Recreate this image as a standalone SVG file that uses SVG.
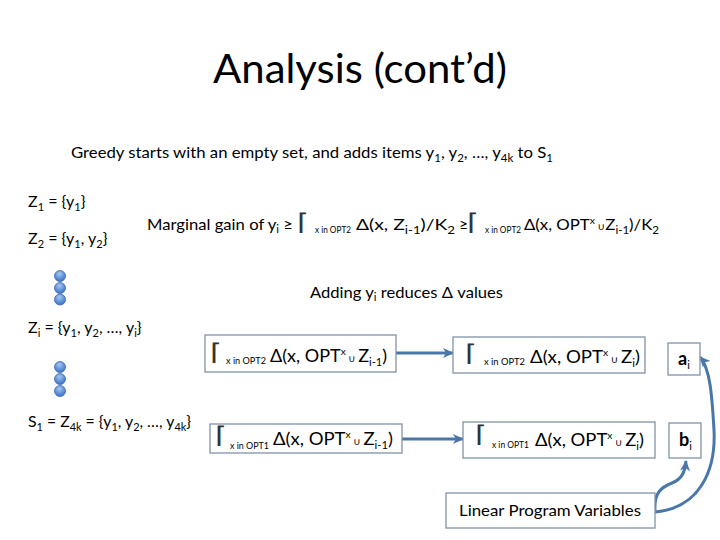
<svg xmlns="http://www.w3.org/2000/svg" width="720" height="540" viewBox="0 0 720 540">
  <style>
    text { font-family: "Lato", "Liberation Sans", "DejaVu Sans", sans-serif; fill: #000; }
    .title { font-size: 40px; }
    .body { font-size: 16px; }
    .big { font-size: 18px; }
    .sub { font-size: 11px; }
    .tiny { font-size: 10px; }
    .sig { font-family: "DejaVu Sans", sans-serif; font-size: 23px; font-weight: 200; fill: #333; }
    .bold { font-weight: bold; font-size: 18px; }
    .box { fill: #fff; stroke: #8193a8; stroke-width: 1.3; }
    .conn { fill: none; stroke: #4a77aa; stroke-width: 3; }
    .dot { fill: url(#dotg); stroke: #3d6cb0; stroke-width: 0.8; }
  </style>
  <defs>
    <radialGradient id="dotg" cx="0.45" cy="0.3" r="0.7">
      <stop offset="0" stop-color="#a9c6f0"/>
      <stop offset="0.6" stop-color="#5f92da"/>
      <stop offset="1" stop-color="#3f72bf"/>
    </radialGradient>
    <marker id="arr" markerUnits="userSpaceOnUse" markerWidth="12" markerHeight="12" viewBox="0 0 12 12" refX="10" refY="6" orient="auto">
      <path d="M0,1 L11,6 L0,11 L3,6 Z" fill="#4a77aa"/>
    </marker>
  </defs>

  <rect width="720" height="540" fill="#fff"/>

  <g id="title">
    <text class="title" x="360" y="83" text-anchor="middle" textLength="294" lengthAdjust="spacingAndGlyphs">Analysis (cont’d)</text>
  </g>

  <g id="greedy">
    <text class="body" x="71" y="158" textLength="482" lengthAdjust="spacingAndGlyphs">Greedy starts with an empty set, and adds items y<tspan class="sub" dy="4">1</tspan><tspan dy="-4">, y</tspan><tspan class="sub" dy="4">2</tspan><tspan dy="-4">, …, y</tspan><tspan class="sub" dy="4">4k</tspan><tspan dy="-4"> to S</tspan><tspan class="sub" dy="4">1</tspan></text>
  </g>

  <g id="z-sets">
    <text class="body" x="28" y="207">Z<tspan class="sub" dy="4">1</tspan><tspan dy="-4"> = {y</tspan><tspan class="sub" dy="4">1</tspan><tspan dy="-4">}</tspan></text>
    <text class="body" x="28" y="244">Z<tspan class="sub" dy="4">2</tspan><tspan dy="-4"> = {y</tspan><tspan class="sub" dy="4">1</tspan><tspan dy="-4">, y</tspan><tspan class="sub" dy="4">2</tspan><tspan dy="-4">}</tspan></text>
    <text class="body" x="28" y="333">Z<tspan class="sub" dy="4">i</tspan><tspan dy="-4"> = {y</tspan><tspan class="sub" dy="4">1</tspan><tspan dy="-4">, y</tspan><tspan class="sub" dy="4">2</tspan><tspan dy="-4">, …, y</tspan><tspan class="sub" dy="4">i</tspan><tspan dy="-4">}</tspan></text>
    <text class="body" x="28" y="427" textLength="163" lengthAdjust="spacingAndGlyphs">S<tspan class="sub" dy="4">1</tspan><tspan dy="-4"> = Z</tspan><tspan class="sub" dy="4">4k</tspan><tspan dy="-4"> = {y</tspan><tspan class="sub" dy="4">1</tspan><tspan dy="-4">, y</tspan><tspan class="sub" dy="4">2</tspan><tspan dy="-4">, …, y</tspan><tspan class="sub" dy="4">4k</tspan><tspan dy="-4">}</tspan></text>
  </g>

  <g id="dots">
    <circle class="dot" cx="60" cy="276" r="5.5"/>
    <circle class="dot" cx="60" cy="288" r="5.5"/>
    <circle class="dot" cx="60" cy="299.5" r="5.5"/>
    <circle class="dot" cx="60" cy="367" r="5.5"/>
    <circle class="dot" cx="60" cy="379" r="5.5"/>
    <circle class="dot" cx="60" cy="391" r="5.5"/>
  </g>

  <g id="marginal-gain">
    <text class="body" x="147" y="230" textLength="146" lengthAdjust="spacingAndGlyphs">Marginal gain of y<tspan class="sub" dy="3">i</tspan><tspan dy="-3"> ≥</tspan></text>
    <text class="sig" x="297" y="230" textLength="12" lengthAdjust="spacingAndGlyphs">⌈</text>
    <text class="tiny" x="315" y="233" textLength="36" lengthAdjust="spacingAndGlyphs">x in OPT2</text>
    <text class="body" x="356" y="230" textLength="99" lengthAdjust="spacingAndGlyphs">Δ(x, Z<tspan class="sub" dy="4">i-1</tspan><tspan dy="-4">)/K</tspan><tspan class="sub" dy="4">2</tspan></text>
    <text class="body" x="459" y="230">≥</text>
    <text class="sig" x="467" y="230" textLength="12" lengthAdjust="spacingAndGlyphs">⌈</text>
    <text class="tiny" x="485" y="233" textLength="36" lengthAdjust="spacingAndGlyphs">x in OPT2</text>
    <text class="body" x="524" y="230" textLength="135" lengthAdjust="spacingAndGlyphs">Δ(x, OPT<tspan class="tiny" dy="-6">x</tspan><tspan class="tiny" dy="6">  ∪</tspan><tspan>Z</tspan><tspan class="sub" dy="4">i-1</tspan><tspan dy="-4">)/K</tspan><tspan class="sub" dy="4">2</tspan></text>
  </g>

  <g id="adding">
    <text class="body" x="310" y="298" textLength="193" lengthAdjust="spacingAndGlyphs">Adding y<tspan class="sub" dy="3">i</tspan><tspan dy="-3"> reduces Δ values</tspan></text>
  </g>

  <g id="connectors">
    <path class="conn" d="M396,353 L453,353" marker-end="url(#arr)"/>
    <path class="conn" d="M402,439 L463,439" marker-end="url(#arr)"/>
    <path class="conn" d="M655,512 C700,508 716,470 714,430 C712,395 710,368 700,357" marker-end="url(#arr)"/>
    <path class="conn" d="M655,510 C654,492 662,487 672,483 C682,479 685,472 686,461" marker-end="url(#arr)"/>
  </g>

  <g id="box-opt2-prev">
    <rect class="box" x="205" y="335" width="191" height="37"/>
    <text class="sig" x="210" y="360" textLength="12" lengthAdjust="spacingAndGlyphs">⌈</text>
    <text class="tiny" x="226" y="364" textLength="40" lengthAdjust="spacingAndGlyphs">x in OPT2</text>
    <text class="big" x="270" y="362" textLength="117" lengthAdjust="spacingAndGlyphs">Δ(x, OPT<tspan class="tiny" dy="-7">x</tspan><tspan class="tiny" dy="7">  ∪  </tspan><tspan>Z</tspan><tspan class="sub" dy="4">i-1</tspan><tspan dy="-4">)</tspan></text>
  </g>

  <g id="box-opt2-cur">
    <rect class="box" x="453" y="337" width="192" height="36"/>
    <text class="sig" x="465" y="361" textLength="12" lengthAdjust="spacingAndGlyphs">⌈</text>
    <text class="tiny" x="484" y="365" textLength="41" lengthAdjust="spacingAndGlyphs">x in OPT2</text>
    <text class="big" x="530" y="363" textLength="110" lengthAdjust="spacingAndGlyphs">Δ(x, OPT<tspan class="tiny" dy="-7">x</tspan><tspan class="tiny" dy="7">  ∪  </tspan><tspan>Z</tspan><tspan class="sub" dy="4">i</tspan><tspan dy="-4">)</tspan></text>
  </g>

  <g id="box-a">
    <rect class="box" x="668" y="343" width="32" height="32"/>
    <text class="bold" x="678" y="365">a<tspan class="sub" dy="4" font-weight="normal">i</tspan></text>
  </g>

  <g id="box-opt1-prev">
    <rect class="box" x="210" y="424" width="192" height="29"/>
    <text class="sig" x="215" y="443" textLength="12" lengthAdjust="spacingAndGlyphs">⌈</text>
    <text class="tiny" x="230" y="449" textLength="39" lengthAdjust="spacingAndGlyphs">x in OPT1</text>
    <text class="big" x="273" y="445" textLength="120" lengthAdjust="spacingAndGlyphs">Δ(x, OPT<tspan class="tiny" dy="-7">x</tspan><tspan class="tiny" dy="7">  ∪  </tspan><tspan>Z</tspan><tspan class="sub" dy="4">i-1</tspan><tspan dy="-4">)</tspan></text>
  </g>

  <g id="box-opt1-cur">
    <rect class="box" x="463" y="422" width="192" height="36"/>
    <text class="sig" x="475" y="442" textLength="12" lengthAdjust="spacingAndGlyphs">⌈</text>
    <text class="tiny" x="492" y="448" textLength="37" lengthAdjust="spacingAndGlyphs">x in OPT1</text>
    <text class="big" x="535" y="446" textLength="109" lengthAdjust="spacingAndGlyphs">Δ(x, OPT<tspan class="tiny" dy="-7">x</tspan><tspan class="tiny" dy="7">  ∪  </tspan><tspan>Z</tspan><tspan class="sub" dy="4">i</tspan><tspan dy="-4">)</tspan></text>
  </g>

  <g id="box-b">
    <rect class="box" x="669" y="423" width="32" height="35"/>
    <text class="bold" x="679" y="446">b<tspan class="sub" dy="4" font-weight="normal">i</tspan></text>
  </g>

  <g id="box-lpv">
    <rect class="box" x="446" y="493" width="209" height="35"/>
    <text class="body" x="459" y="516" textLength="182" lengthAdjust="spacingAndGlyphs">Linear Program Variables</text>
  </g>
</svg>
